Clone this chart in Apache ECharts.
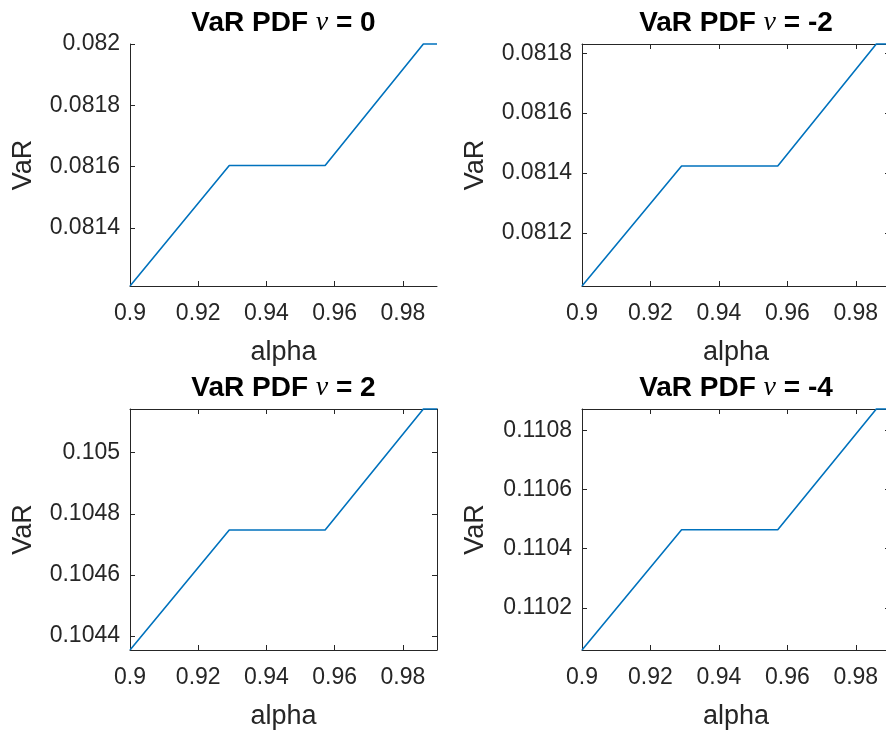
<!DOCTYPE html>
<html>
<head>
<meta charset="utf-8">
<script src="https://cdn.jsdelivr.net/npm/echarts@6/dist/echarts.min.js"></script>
<style>
  html, body { margin: 0; padding: 0; overflow: hidden; background: #fff; }
  #chart { width: 900px; height: 731px; }
</style>
</head>
<body>
<div id="chart"></div>
<script>
// Confidence levels (x) shared by all four panels
const alpha = [0.9, 0.9291, 0.95, 0.9572, 0.986, 0.99];

// VaR curves, one per nu
const varNu0  = [0.081211, 0.081604, 0.081604, 0.081604, 0.082000, 0.082000];
const varNuM2 = [0.081022, 0.081423, 0.081423, 0.081423, 0.081831, 0.081831];
const varNu2  = [0.104354, 0.104747, 0.104747, 0.104747, 0.105143, 0.105143];
const varNuM4 = [0.110058, 0.110464, 0.110464, 0.110464, 0.110872, 0.110872];

// Panel labels (value of nu)
const nuLabels = ['0', '-2', '2', '-4'];

// Tick values
const alphaTicks = [0.9, 0.92, 0.94, 0.96, 0.98];
const varTicksNu0  = [0.0814, 0.0816, 0.0818, 0.082];
const varTicksNuM2 = [0.0812, 0.0814, 0.0816, 0.0818];
const varTicksNu2  = [0.1044, 0.1046, 0.1048, 0.105];
const varTicksNuM4 = [0.1102, 0.1104, 0.1106, 0.1108];

const AXIS_COLOR = '#262626';
const LINE_COLOR = '#0072BD';
const FONT = 'Liberation Sans, Arial, Helvetica, sans-serif';

// Subplot frames (pixels)
const frames = [
  { left: 130, top: 44,  width: 307, height: 242, boxed: false },
  { left: 582, top: 44,  width: 308, height: 242, boxed: true },
  { left: 130, top: 409, width: 307, height: 243, boxed: true },
  { left: 582, top: 409, width: 308, height: 243, boxed: true }
];
const panelData = [varNu0, varNuM2, varNu2, varNuM4];
const panelTicks = [varTicksNu0, varTicksNuM2, varTicksNu2, varTicksNuM4];

const fmt = v => String(+v.toFixed(6));

function makeAxis(kind, position, gridIndex, min, max, ticks, withLabels, name) {
  const ax = {
    type: 'value',
    gridIndex: gridIndex,
    position: position,
    min: min,
    max: max,
    axisLine: { show: true, onZero: false, lineStyle: { color: AXIS_COLOR, width: 1 } },
    axisTick: { show: true, inside: true, length: 5, customValues: ticks,
                lineStyle: { color: AXIS_COLOR, width: 1 } },
    axisLabel: { show: withLabels, customValues: ticks, formatter: fmt,
                 color: AXIS_COLOR, fontSize: 23, fontFamily: FONT,
                 margin: kind === 'x' ? 16 : 10 },
    splitLine: { show: false }
  };
  if (name) {
    ax.name = name;
    ax.nameLocation = 'middle';
    ax.nameGap = kind === 'x' ? 53 : 93;
    ax.nameTextStyle = { color: AXIS_COLOR, fontSize: 27, fontFamily: FONT };
  }
  return ax;
}

const grids = [], xAxes = [], yAxes = [], series = [], titles = [];

frames.forEach((f, i) => {
  grids.push({ left: f.left, top: f.top, width: f.width, height: f.height, containLabel: false });
  const data = panelData[i];
  const yMin = Math.min.apply(null, data), yMax = Math.max.apply(null, data);
  const xMin = alpha[0], xMax = alpha[alpha.length - 1];

  const xi = xAxes.length, yi = yAxes.length;
  xAxes.push(makeAxis('x', 'bottom', i, xMin, xMax, alphaTicks, true, 'alpha'));
  yAxes.push(makeAxis('y', 'left', i, yMin, yMax, panelTicks[i], true, 'VaR'));
  if (f.boxed) {
    xAxes.push(makeAxis('x', 'top', i, xMin, xMax, alphaTicks, false, null));
    yAxes.push(makeAxis('y', 'right', i, yMin, yMax, panelTicks[i], false, null));
  }

  series.push({
    type: 'line',
    xAxisIndex: xi,
    yAxisIndex: yi,
    data: alpha.map((a, j) => [a, data[j]]),
    showSymbol: false,
    symbol: 'none',
    clip: false,
    lineStyle: { color: LINE_COLOR, width: 1.6 },
    z: 1
  });

  titles.push({
    text: 'VaR PDF {nu|ν} = ' + nuLabels[i],
    left: f.left + f.width / 2,
    top: f.top - 35,
    textAlign: 'center',
    padding: 0,
    textStyle: {
      color: '#000', fontSize: 28, fontWeight: 'bold', fontFamily: FONT,
      rich: {
        nu: { fontFamily: 'Liberation Serif, Times New Roman, serif', fontStyle: 'italic',
              fontWeight: 'normal', fontSize: 28, color: '#000' }
      }
    }
  });
});

const chart = echarts.init(document.getElementById('chart'), null, { renderer: 'canvas' });
chart.setOption({
  animation: false,
  backgroundColor: '#fff',
  title: titles,
  grid: grids,
  xAxis: xAxes,
  yAxis: yAxes,
  series: series
});
</script>
</body>
</html>
